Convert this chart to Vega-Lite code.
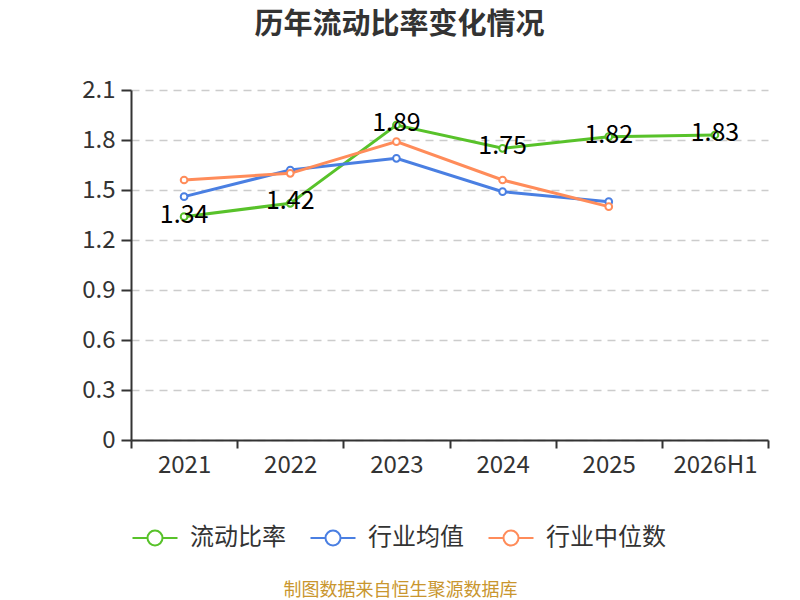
{
  "$schema": "https://vega.github.io/schema/vega-lite/v6.json",
  "autosize": {"type": "none"},
  "width": 637,
  "height": 350,
  "padding": {"left": 131, "top": 90, "right": 32, "bottom": 160},
  "background": "white",
  "config": {
    "font": "Noto Sans CJK SC",
    "view": {"stroke": null}
  },
  "title": {
    "text": "历年流动比率变化情况",
    "fontSize": 29,
    "fontWeight": "bold",
    "color": "#333333",
    "anchor": "middle",
    "dx": -50,
    "offset": 38
  },
  "data": {
    "values": [
      {"year": "2021", "series": "流动比率", "value": 1.34},
      {"year": "2022", "series": "流动比率", "value": 1.42},
      {"year": "2023", "series": "流动比率", "value": 1.89},
      {"year": "2024", "series": "流动比率", "value": 1.75},
      {"year": "2025", "series": "流动比率", "value": 1.82},
      {"year": "2026H1", "series": "流动比率", "value": 1.83},
      {"year": "2021", "series": "行业均值", "value": 1.46},
      {"year": "2022", "series": "行业均值", "value": 1.62},
      {"year": "2023", "series": "行业均值", "value": 1.69},
      {"year": "2024", "series": "行业均值", "value": 1.49},
      {"year": "2025", "series": "行业均值", "value": 1.43},
      {"year": "2021", "series": "行业中位数", "value": 1.56},
      {"year": "2022", "series": "行业中位数", "value": 1.6},
      {"year": "2023", "series": "行业中位数", "value": 1.79},
      {"year": "2024", "series": "行业中位数", "value": 1.56},
      {"year": "2025", "series": "行业中位数", "value": 1.4}
    ]
  },
  "encoding": {
    "x": {
      "field": "year",
      "type": "nominal",
      "scale": {"type": "band", "paddingInner": 0, "paddingOuter": 0},
      "axis": {
        "title": "制图数据来自恒生聚源数据库",
        "titleColor": "#c9962e",
        "titleFontSize": 18,
        "titleFontWeight": "normal",
        "titlePadding": 104,
        "titleX": 269,
        "labelAngle": 0,
        "labelFontSize": 24,
        "labelColor": "#333333",
        "labelPadding": 5,
        "domainColor": "#333333",
        "domainWidth": 2,
        "tickColor": "#333333",
        "tickWidth": 2,
        "tickSize": 8,
        "tickBand": "extent",
        "grid": false
      }
    },
    "y": {
      "field": "value",
      "type": "quantitative",
      "scale": {"domain": [0, 2.1], "nice": false},
      "axis": {
        "title": null,
        "values": [0, 0.3, 0.6, 0.9, 1.2, 1.5, 1.8, 2.1],
        "format": ".1~f",
        "labelFontSize": 24,
        "labelColor": "#333333",
        "labelPadding": 6,
        "domainColor": "#333333",
        "domainWidth": 2,
        "tickColor": "#333333",
        "tickWidth": 2,
        "tickSize": 10,
        "gridColor": "#cccccc",
        "gridDash": [8, 6],
        "gridWidth": 1.5
      }
    },
    "color": {
      "field": "series",
      "type": "nominal",
      "scale": {
        "domain": ["流动比率", "行业均值", "行业中位数"],
        "range": ["#58c22a", "#4a7fe2", "#ff8c5a"]
      },
      "legend": {
        "title": null,
        "orient": "none",
        "direction": "horizontal",
        "legendX": 8,
        "legendY": 432,
        "labelFontSize": 24,
        "labelColor": "#333333",
        "columnPadding": 20,
        "labelOffset": 19,
        "symbolType": "M-1.5,0L-0.5,0M0.5,0L1.5,0M-0.5,0A0.5,0.5 0 1,0 0.5,0A0.5,0.5 0 1,0 -0.5,0",
        "symbolSize": 900,
        "symbolStrokeWidth": 2,
        "symbolFillColor": "white"
      }
    }
  },
  "layer": [
    {
      "mark": {"type": "line", "strokeWidth": 3},
      "encoding": {"detail": {"field": "series"}}
    },
    {
      "mark": {"type": "point", "filled": false, "fill": "white", "fillOpacity": 1, "size": 45, "strokeWidth": 2, "opacity": 1}
    },
    {
      "transform": [{"filter": "datum.series === '流动比率'"}],
      "mark": {"type": "text", "fontSize": 25, "color": "#000000", "baseline": "middle", "dy": -2},
      "encoding": {
        "text": {"field": "value", "type": "quantitative", "format": ".2f"},
        "color": {"value": "#000000"}
      }
    }
  ]
}
